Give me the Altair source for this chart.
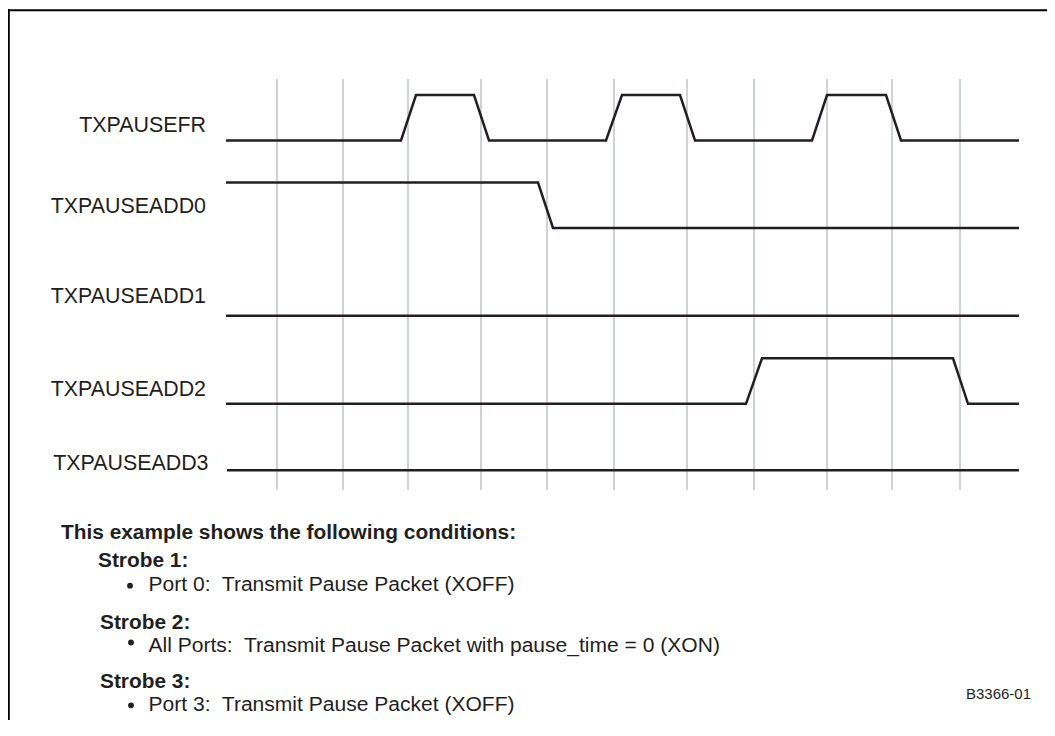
import altair as alt
import pandas as pd

# ---- data ----
signals = ["TXPAUSEFR", "TXPAUSEADD0", "TXPAUSEADD1", "TXPAUSEADD2", "TXPAUSEADD3"]

# waveform break points: time (arbitrary units) and logic level
fr_t = [0, 175, 190, 248, 263, 380, 396, 454, 469, 586, 601, 660, 675, 793]
fr_v = [0, 0, 1, 1, 0, 0, 1, 1, 0, 0, 1, 1, 0, 0]
add0_t = [0, 312, 327, 793]
add0_v = [1, 1, 0, 0]
add1_t = [0, 793]
add1_v = [0, 0]
add2_t = [0, 520, 536, 727, 742, 793]
add2_v = [0, 0, 1, 1, 0, 0]
add3_t = [1, 793]
add3_v = [0, 0]

# vertical timing grid (strobe clock edges)
grid_t = [51, 117, 182, 255, 321, 388, 461, 528, 601, 666, 734]

heading = "This example shows the following conditions:"
strobe_titles = ["Strobe 1:", "Strobe 2:", "Strobe 3:"]
strobe_items = [
    "Port 0:\u00a0 Transmit Pause Packet (XOFF)",
    "All Ports:\u00a0 Transmit Pause Packet with pause_time = 0 (XON)",
    "Port 3:\u00a0 Transmit Pause Packet (XOFF)",
]
figure_id = "B3366-01"

# ---- layout (page pixel coordinates) ----
X0 = 226            # page x of time 0
row_low = [140.5, 228, 315.8, 403.8, 470.3]
amp = 45.5
label_base = [131.5, 213.3, 303.3, 395.7, 470]
label_right = [206, 206, 206, 206, 208.5]
FONT = "Liberation Sans"
INK = "#231f20"
W, H = 1039, 712

def tx(px):
    return px - X0

waves = [(fr_t, fr_v), (add0_t, add0_v), (add1_t, add1_v), (add2_t, add2_v), (add3_t, add3_v)]
rows = []
for i, (name, (ts, vs)) in enumerate(zip(signals, waves)):
    for k, (t, v) in enumerate(zip(ts, vs)):
        rows.append({"signal": name, "seq": k, "t": t, "y": row_low[i] - v * amp})
wave_df = pd.DataFrame(rows)

grid_df = pd.DataFrame({"t": grid_t, "y0": 79, "y1": 490})

xs = alt.Scale(domain=[tx(8), tx(8 + W)], nice=False, zero=False)
ys = alt.Scale(domain=[8, 8 + H], reverse=True, nice=False, zero=False)

def X(f):
    return alt.X(f, type="quantitative", scale=xs, axis=None)

def Y(f):
    return alt.Y(f, type="quantitative", scale=ys, axis=None)

grid = alt.Chart(grid_df).mark_rule(color="#aeb5bd", strokeWidth=1.2).encode(
    x=X("t"), y=Y("y0"), y2="y1"
)

wave = alt.Chart(wave_df).mark_line(color=INK, strokeWidth=2.5, strokeJoin="miter").encode(
    x=X("t"), y=Y("y"), detail="signal:N", order="seq:Q"
)

frame_df = pd.DataFrame({
    "xa": [tx(8.8), tx(8)], "xb": [tx(8.8), tx(8 + W)],
    "ya": [9.2, 10.2], "yb": [8 + H, 10.2],
})
frame = alt.Chart(frame_df).mark_rule(color="#000000", strokeWidth=2).encode(
    x=X("xa"), x2="xb", y=Y("ya"), y2="yb"
)

lab_df = pd.DataFrame({
    "text": signals,
    "x": [tx(v) for v in label_right],
    "y": label_base,
})
labels = alt.Chart(lab_df).mark_text(
    align="right", baseline="alphabetic", font=FONT, fontSize=21.4, color=INK
).encode(x=X("x"), y=Y("y"), text="text:N")

bold_df = pd.DataFrame({
    "text": [heading] + strobe_titles,
    "x": [tx(61), tx(98), tx(100), tx(100)],
    "y": [539, 567, 629, 688],
})
bold = alt.Chart(bold_df).mark_text(
    align="left", baseline="alphabetic", font=FONT, fontSize=20.85, fontWeight="bold", color=INK
).encode(x=X("x"), y=Y("y"), text="text:N")

item_df = pd.DataFrame({
    "text": strobe_items,
    "x": [tx(148.5)] * 3,
    "y": [590.5, 652, 711],
})
items = alt.Chart(item_df).mark_text(
    align="left", baseline="alphabetic", font=FONT, fontSize=21.05, color=INK
).encode(x=X("x"), y=Y("y"), text="text:N")

bul_df = pd.DataFrame({
    "x": [tx(130), tx(131), tx(131)],
    "y": [585.7, 642.5, 705.3],
})
bullets = alt.Chart(bul_df).mark_point(
    shape="circle", filled=True, size=34, color=INK, opacity=1
).encode(x=X("x"), y=Y("y"))

fid_df = pd.DataFrame({"text": [figure_id], "x": [tx(1031)], "y": [699]})
fid = alt.Chart(fid_df).mark_text(
    align="right", baseline="alphabetic", font=FONT, fontSize=15, color=INK
).encode(x=X("x"), y=Y("y"), text="text:N")

chart = alt.layer(frame, grid, wave, labels, bold, items, bullets, fid).properties(
    width=W, height=H, autosize=alt.AutoSizeParams(type="none"), padding=0,
    background="white",
).configure_view(strokeWidth=0)

chart.save("out.html", embed_options={"renderer": "svg", "actions": False})
